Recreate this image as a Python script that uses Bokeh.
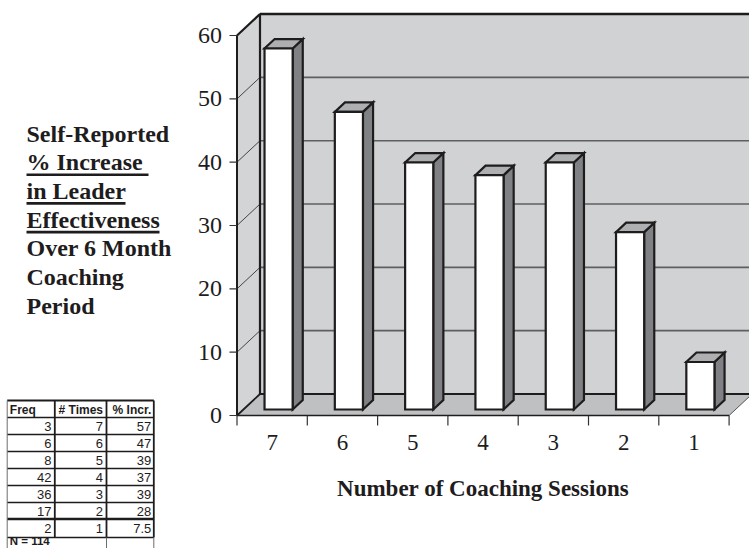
from bokeh.plotting import figure
from bokeh.models import Range1d
from bokeh.core.properties import value
from bokeh.embed import file_html
from bokeh.resources import INLINE

# ---------------- data ----------------
sessions = ["7", "6", "5", "4", "3", "2", "1"]
pct_increase = [57, 47, 39, 37, 39, 28, 7.5]
y_ticks = [0, 10, 20, 30, 40, 50, 60]
x_title = "Number of Coaching Sessions"

side_title = ["Self-Reported", "% Increase ", "in Leader", "Effectiveness",
              "Over 6 Month", "Coaching", "Period"]

table_header = ["Freq", "# Times", "% Incr."]
freq = [3, 6, 8, 42, 36, 17, 2]
times = [7, 6, 5, 4, 3, 2, 1]
pct_labels = ["57", "47", "39", "37", "39", "28", "7.5"]
n_total = "N = 114"

# ---------------- layout helpers (pixel -> data) ----------------
W, H = 749, 548
ORIGIN_X, ORIGIN_Y = 236.5, 415.0     # pixel position of value 0 at the front-left corner
SLOT_PX = 70.3                         # pixels per category slot
UNIT_PX = 6.333                        # pixels per value unit


def X(px):
    return (px - ORIGIN_X) / SLOT_PX


def Y(py):
    return (ORIGIN_Y - py) / UNIT_PX


SERIF = value("Liberation Serif")
SANS = value("Liberation Sans")
INK = "#1e1c1d"

p = figure(width=W, height=H, x_range=Range1d(X(0), X(W)), y_range=Range1d(Y(H), Y(0)),
           output_backend="svg", toolbar_location=None,
           x_axis_location=None, y_axis_location=None, min_border=0,
           outline_line_color=None, background_fill_color="white",
           border_fill_color="white")
p.xgrid.visible = False
p.ygrid.visible = False
p.grid.grid_line_color = None

n = len(sessions)
ymax = y_ticks[-1]
DX = 23.0 / SLOT_PX
DY = 21.5 / UNIT_PX

# ---------------- walls and floor ----------------
p.patch([DX, n + DX + 1, n + DX + 1, DX], [DY, DY, ymax + DY, ymax + DY],
        fill_color="#d1d2d4", line_color=None)
p.patch([0, 0, DX, DX], [0, ymax, ymax + DY, DY], fill_color="#d3d4d6", line_color=None)
p.patch([0, n, n + DX, DX], [0, 0, DY, DY], fill_color="#bfc0c2", line_color=None)

# gridlines on left and back wall
grid_vals = y_ticks[1:-1]
p.multi_line([[0, DX] for v in grid_vals], [[v, v + DY] for v in grid_vals],
             line_color="#444444", line_width=1)
p.multi_line([[DX, n + DX + 1] for v in grid_vals], [[v + DY, v + DY] for v in grid_vals],
             line_color="#5f5f61", line_width=1.6)

# wall edges
p.line([DX, n + DX + 1], [ymax + DY, ymax + DY], line_color=INK, line_width=2.4)
p.line([0, DX, DX, DX], [ymax, ymax + DY, ymax + DY, DY], line_color=INK, line_width=2.2)
p.line([0, DX, n + DX + 1], [0, DY, DY], line_color=INK, line_width=1.8)
p.line([n, n + DX], [0, DY], line_color="#555555", line_width=1)
p.line([0, 0], [0, ymax], line_color=INK, line_width=2)
p.line([0, n], [0, 0], line_color=INK, line_width=1.6)

# ---------------- bars ----------------
hw = 0.20
f0, f1 = 0.28, 0.72
front_xs, front_ys, top_xs, top_ys, side_xs, side_ys = [], [], [], [], [], []
for i, v in enumerate(pct_increase):
    c = i + 0.5
    xl, xr = c - hw + f0 * DX, c + hw + f0 * DX
    xlb, xrb = c - hw + f1 * DX, c + hw + f1 * DX
    yb0, yb1 = f0 * DY, f1 * DY
    front_xs.append([xl, xr, xr, xl])
    front_ys.append([yb0, yb0, yb0 + v, yb0 + v])
    top_xs.append([xl, xr, xrb, xlb])
    top_ys.append([yb0 + v, yb0 + v, yb1 + v, yb1 + v])
    side_xs.append([xr, xrb, xrb, xr])
    side_ys.append([yb0, yb1, yb1 + v, yb0 + v])

p.patches(side_xs, side_ys, fill_color="#808184", line_color=INK, line_width=2.2, line_join="miter")
p.patches(top_xs, top_ys, fill_color="#aeafb1", line_color=INK, line_width=2.2, line_join="miter")
p.patches(front_xs, front_ys, fill_color="white", line_color=INK, line_width=2.2, line_join="miter")

# ---------------- axes (ticks + labels) ----------------
tick_y = 7.5 / SLOT_PX
p.segment(x0=[-tick_y] * len(y_ticks), y0=y_ticks, x1=[0] * len(y_ticks), y1=y_ticks,
          line_color="#333333", line_width=1.2)
tick_x = 10.0 / UNIT_PX
bounds = list(range(n + 1))
p.segment(x0=bounds, y0=[0] * len(bounds), x1=bounds, y1=[-tick_x] * len(bounds),
          line_color="#333333", line_width=1.2)

p.text(x=[X(ORIGIN_X - 15)] * len(y_ticks), y=y_ticks, text=[str(t) for t in y_ticks],
       text_align="right", text_baseline="middle", text_font=SERIF,
       text_font_size="24px", text_color=INK)
p.text(x=[i + 0.5 for i in range(n)], y=[Y(442)] * n, text=sessions,
       text_align="center", text_baseline="middle", text_font=SERIF,
       text_font_size="23px", text_color=INK)
p.text(x=[n / 2], y=[Y(488)], text=[x_title], text_align="center", text_baseline="middle",
       text_font=SERIF, text_font_style="bold", text_font_size="23px", text_color=INK)

# ---------------- side title ----------------
line_h = 28.7
center0 = 133.0
p.text(x=[X(26)] * len(side_title), y=[Y(center0 + k * line_h) for k in range(len(side_title))],
       text=side_title, text_align="left", text_baseline="middle", text_font=SERIF,
       text_font_style="bold", text_font_size="24px", text_color=INK)
underline_rows = [1, 2, 3]
underline_end_px = [148, 125, 159]
p.segment(x0=[X(26)] * 3, x1=[X(e) for e in underline_end_px],
          y0=[Y(center0 + r * line_h + 12.5) for r in underline_rows],
          y1=[Y(center0 + r * line_h + 12.5) for r in underline_rows],
          line_color=INK, line_width=2.6)

# ---------------- frequency table ----------------
col_px = [6.7, 54.3, 106.0, 153.3]
row_px = [400.0, 417.0, 434.0, 451.0, 468.0, 485.0, 502.0, 518.5, 537.0]
last = row_px[-1]
# horizontal rules
hw_list = [2.0] + [1.3] * 6 + [2.6, 1.6]
p.segment(x0=[X(col_px[0])] * len(row_px), x1=[X(col_px[-1])] * len(row_px),
          y0=[Y(r) for r in row_px], y1=[Y(r) for r in row_px],
          line_color=INK, line_width=hw_list)
# vertical rules
p.segment(x0=[X(c) for c in col_px[1:]], x1=[X(c) for c in col_px[1:]],
          y0=[Y(row_px[0])] * 3, y1=[Y(last)] * 3, line_color=INK, line_width=1.8)
p.segment(x0=[X(col_px[0])], x1=[X(col_px[0])], y0=[Y(row_px[0])], y1=[Y(H + 2)],
          line_color="#6d6d6d", line_width=1)
p.segment(x0=[X(c) for c in col_px[2:]], x1=[X(c) for c in col_px[2:]],
          y0=[Y(last)] * 2, y1=[Y(H + 2)] * 2, line_color="#6d6d6d", line_width=1)

# header
hdr_c = (row_px[0] + row_px[1]) / 2 + 0.5
p.text(x=[X(9.3)], y=[Y(hdr_c)], text=[table_header[0]], text_align="left",
       text_baseline="middle", text_font=SANS, text_font_style="bold",
       text_font_size="12px", text_color=INK)
p.text(x=[X(102.5), X(150.8)], y=[Y(hdr_c)] * 2, text=table_header[1:], text_align="right",
       text_baseline="middle", text_font=SANS, text_font_style="bold",
       text_font_size="12px", text_color=INK)
# body
centers = [(row_px[k + 1] + row_px[k + 2]) / 2 + 0.5 for k in range(len(freq))]
for col_right, col_vals in zip([51.0, 102.5, 150.8],
                               [[str(f) for f in freq], [str(t) for t in times], pct_labels]):
    p.text(x=[X(col_right)] * len(col_vals), y=[Y(c) for c in centers], text=col_vals,
           text_align="right", text_baseline="middle", text_font=SANS,
           text_font_size="13px", text_color=INK)
p.text(x=[X(9.3)], y=[Y(540.5)], text=[n_total], text_align="left",
       text_baseline="middle", text_font=SANS, text_font_style="bold",
       text_font_size="11.5px", text_color=INK)

open("out.html", "w").write(file_html(p, INLINE))
